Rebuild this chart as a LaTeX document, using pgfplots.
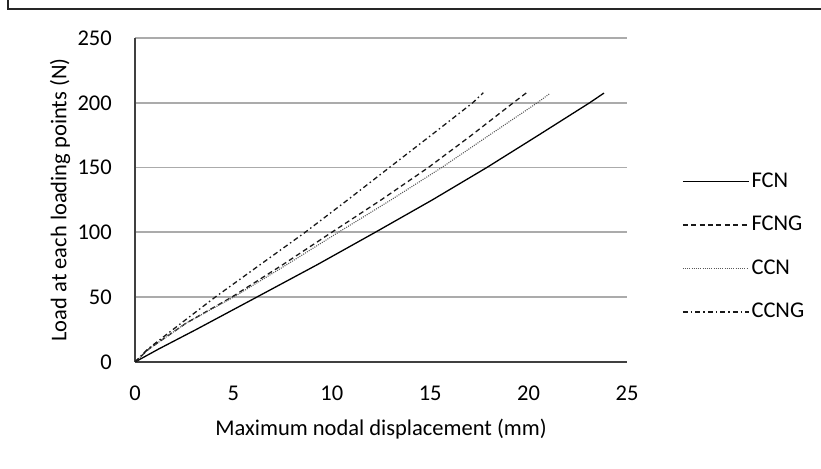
\documentclass[border=0pt]{standalone}
\usepackage{pgfplots}
\pgfplotsset{compat=1.18}
\usepackage{fontspec}
\setmainfont{Carlito}
\newcommand{\chartfont}{\fontsize{22.5}{26}\selectfont}
\begin{document}
\chartfont
\begin{tikzpicture}[x=1pt,y=1pt]
\useasboundingbox (0,0) rectangle (821,468);
\draw[line width=2.5pt, color=black!85] (8,468) -- (8,459) -- (821,459);
\begin{axis}[
  at={(135pt,106pt)}, anchor=south west,
  scale only axis, width=492pt, height=324pt,
  xmin=0, xmax=25, ymin=0, ymax=250,
  xtick={0,5,10,15,20,25}, ytick={0,50,100,150,200,250},
  axis x line=bottom, axis y line=left,
  axis line style={-, line width=1.4pt, color=black!75},
  ymajorgrids,
  major grid style={line width=1.8pt, color=black!33},
  major tick length=0pt,
  /pgf/number format/assume math mode=true,
  tick label style={font=\chartfont},
  yticklabel style={anchor=east, inner sep=0pt, xshift=-23pt},
  xticklabel style={anchor=north, inner sep=0pt, yshift=-24pt},
  xlabel={Maximum nodal displacement (mm)},
  every axis x label/.style={at={(axis description cs:0.5,-0.207)}, anchor=center, font=\chartfont},
  legend style={at={(axis description cs:1.1118,0.585)}, anchor=north west,
    draw=none, fill=none, font=\chartfont, inner sep=0pt, row sep=25.5pt,
    nodes={inner sep=0pt},
    /tikz/every odd column/.append style={column sep=2pt}},
  legend cell align=left,
  legend image code/.code={\draw[#1] (0pt,0pt) -- (66pt,0pt);},
]
\addplot[black, line width=1.3pt] coordinates {
(0,0) (1.2,10) (3.1,25) (6.18,50) (9.25,75) (12.2,100) (15.1,125) (17.87,150) (20.5,175) (23.1,200) (23.83,207.5)};
\addlegendentry{FCN}
\addplot[black!90, line width=1.3pt, dash pattern=on 5pt off 3.4pt] coordinates {
(0,0) (0.7,10) (2.6,30) (4.91,50) (7.5,75) (9.99,100) (12.5,125) (14.9,150) (17.1,175) (19.22,200) (19.9,207.8)};
\addlegendentry{FCNG}
\addplot[black!65, line width=1.1pt, dash pattern=on 1pt off 1.2pt] coordinates {
(0,0) (0.7,10) (2.6,30) (5.0,50) (7.7,75) (10.33,100) (13.0,125) (15.58,150) (18.0,175) (20.44,200) (21.05,206.8)};
\addlegendentry{CCN}
\addplot[black!90, line width=1.3pt, dash pattern=on 5pt off 3pt on 1.5pt off 3pt] coordinates {
(0,0) (0.65,10) (2.35,30) (4.07,50) (6.35,75) (8.64,100) (10.8,125) (12.92,150) (15.05,175) (17.16,200) (17.7,207.8)};
\addlegendentry{CCNG}
\end{axis}
\node[rotate=90, anchor=center, font=\chartfont, inner sep=0pt] at (60,268) {Load at each loading points (N)};
\end{tikzpicture}
\end{document}
